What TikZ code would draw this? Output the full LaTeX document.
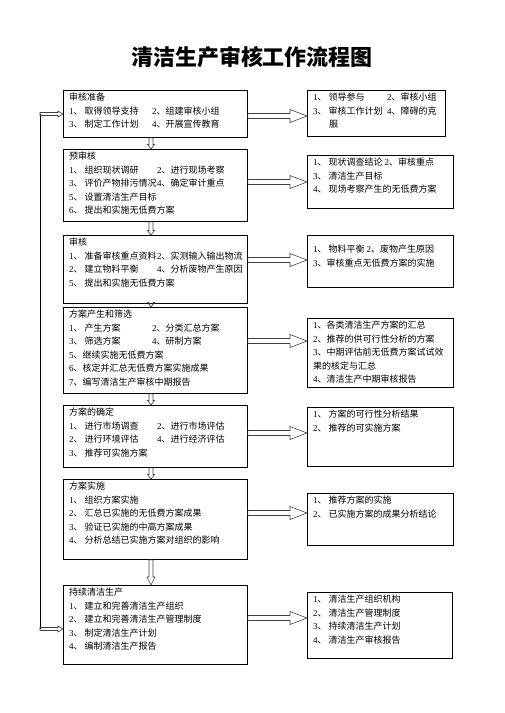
\documentclass[tikz,border=0pt]{standalone}
\usepackage{fontspec}
\setmainfont{Liberation Serif}
\newfontfamily\cjk{Noto Sans CJK SC}
\usetikzlibrary{calc}
\newcommand{\itm}[1]{{\rmfamily #1}、}
\tikzset{
  stage/.style={draw, line width=0.8pt, anchor=north west, inner sep=0pt},
  txt/.style={anchor=north west, inner sep=0pt, align=left, font=\cjk\fontsize{9}{13.5}\selectfont},
  fat/.style n args={3}{to path={let \p1=(\tikztostart), \p2=(\tikztotarget) in
    (\x1,\y1+#1) -- (\x2-#3,\y1+#1) -- (\x2-#3,\y1+#2) -- (\x2,\y1) -- (\x2-#3,\y1-#2) -- (\x2-#3,\y1-#1) -- (\x1,\y1-#1) -- cycle}},
  dfat/.style n args={3}{to path={let \p1=(\tikztostart), \p2=(\tikztotarget) in
    (\x1-#1,\y1) -- (\x1-#1,\y2+#3) -- (\x1-#2,\y2+#3) -- (\x1,\y2) -- (\x1+#2,\y2+#3) -- (\x1+#1,\y2+#3) -- (\x1+#1,\y1) -- cycle}},
  harrow/.style={fat={2.5pt}{6.5pt}{17pt}, draw=black!75, line width=0.6pt},
  larrow/.style={fat={1.5pt}{3pt}{5pt}, draw=black!75, line width=0.6pt},
  darrow/.style={dfat={2pt}{3.5pt}{4.5pt}, draw=black!75, line width=0.6pt},
}
\begin{document}
\begin{tikzpicture}[x=1pt, y=1pt]
\useasboundingbox (0,0) rectangle (504,-713);

% Title
\node[font=\cjk\bfseries\fontsize{22}{22}\selectfont] (title) at (252,-57) {清洁生产审核工作流程图};

% Stages on the left
\node[stage, minimum width=184pt, minimum height=47pt] (s1) at (63,-90) {};
\node[txt] (s1t) at ([shift={(6,-3)}]s1.north west) {审核准备\\
\makebox[83pt][l]{\itm{1} 取得领导支持}\itm{2}组建审核小组\\
\makebox[83pt][l]{\itm{3} 制定工作计划}\itm{4}开展宣传教育};

\node[stage, minimum width=184pt, minimum height=72pt] (s2) at (63,-149) {};
\node[txt] (s2t) at ([shift={(6,-3)}]s2.north west) {预审核\\
\makebox[88pt][l]{\itm{1} 组织现状调研}\itm{2}进行现场考察\\
\makebox[88pt][l]{\itm{3} 评价产物排污情况}\itm{4}确定审计重点\\
\itm{5} 设置清洁生产目标\\
\itm{6} 提出和实施无低费方案};

\node[stage, minimum width=184pt, minimum height=68pt] (s3) at (63,-235) {};
\node[txt] (s3t) at ([shift={(6,-3)}]s3.north west) {审核\\
\makebox[88pt][l]{\itm{1} 准备审核重点资料}\itm{2}实测输入输出物流\\
\makebox[88pt][l]{\itm{2} 建立物料平衡}\itm{4}分析废物产生原因\\
\itm{5} 提出和实施无低费方案};

\node[stage, minimum width=184pt, minimum height=86pt] (s4) at (63,-307) {};
\node[txt] (s4t) at ([shift={(6,-3)}]s4.north west) {方案产生和筛选\\
\makebox[83pt][l]{\itm{1} 产生方案}\itm{2}分类汇总方案\\
\makebox[83pt][l]{\itm{3} 筛选方案}\itm{4}研制方案\\
\itm{5}继续实施无低费方案\\
\itm{6}核定并汇总无低费方案实施成果\\
\itm{7}编写清洁生产审核中期报告};

\node[stage, minimum width=184pt, minimum height=62pt] (s5) at (63,-405) {};
\node[txt] (s5t) at ([shift={(6,-3)}]s5.north west) {方案的确定\\
\makebox[88pt][l]{\itm{1} 进行市场调查}\itm{2}进行市场评估\\
\makebox[88pt][l]{\itm{2} 进行环境评估}\itm{4}进行经济评估\\
\itm{3} 推荐可实施方案};

\node[stage, minimum width=184pt, minimum height=80pt] (s6) at (63,-479) {};
\node[txt] (s6t) at ([shift={(6,-3)}]s6.north west) {方案实施\\
\itm{1} 组织方案实施\\
\itm{2} 汇总已实施的无低费方案成果\\
\itm{3} 验证已实施的中高方案成果\\
\itm{4} 分析总结已实施方案对组织的影响};

\node[stage, minimum width=184pt, minimum height=79pt] (s7) at (63,-585) {};
\node[txt] (s7t) at ([shift={(6,-3)}]s7.north west) {持续清洁生产\\
\itm{1} 建立和完善清洁生产组织\\
\itm{2} 建立和完善清洁生产管理制度\\
\itm{3} 制定清洁生产计划\\
\itm{4} 编制清洁生产报告};

% Results on the right
\node[stage, minimum width=138pt, minimum height=46pt] (r1) at (307,-90) {};
\node[txt] (r1t) at ([shift={(6,-3)}]r1.north west) {\makebox[74pt][l]{\itm{1} 领导参与}\itm{2}审核小组\\
\makebox[74pt][l]{\itm{3} 审核工作计划}\itm{4}障碍的克\\
\hspace*{16pt}服};

\node[stage, minimum width=146pt, minimum height=53pt] (r2) at (307,-155) {};
\node[txt] (r2t) at ([shift={(6,-3)}]r2.north west) {\itm{1} 现状调查结论 \itm{2}审核重点\\
\itm{3} 清洁生产目标\\
\itm{4} 现场考察产生的无低费方案};

\node[stage, minimum width=146pt, minimum height=52pt] (r3) at (307,-235) {};
\node[txt] (r3t) at ([shift={(6,-10)}]r3.north west) {\itm{1} 物料平衡 \itm{2}废物产生原因\\
\itm{3}审核重点无低费方案的实施};

\node[stage, minimum width=146pt, minimum height=69pt] (r4) at (307,-318) {};
\node[txt] (r4t) at ([shift={(6,-3)}]r4.north west) {\itm{1}各类清洁生产方案的汇总\\
\itm{2}推荐的供可行性分析的方案\\
\itm{3}中期评估前无低费方案试试效\\
果的核定与汇总\\
\itm{4}清洁生产中期审核报告};

\node[stage, minimum width=146pt, minimum height=59pt] (r5) at (307,-407) {};
\node[txt] (r5t) at ([shift={(6,-3)}]r5.north west) {\itm{1} 方案的可行性分析结果\\
\itm{2} 推荐的可实施方案};

\node[stage, minimum width=146pt, minimum height=52pt] (r6) at (307,-493) {};
\node[txt] (r6t) at ([shift={(6,-3)}]r6.north west) {\itm{1} 推荐方案的实施\\
\itm{2} 已实施方案的成果分析结论};

\node[stage, minimum width=145pt, minimum height=66pt] (r7) at (307,-592) {};
\node[txt] (r7t) at ([shift={(6,-3)}]r7.north west) {\itm{1} 清洁生产组织机构\\
\itm{2} 清洁生产管理制度\\
\itm{3} 持续清洁生产计划\\
\itm{4} 清洁生产审核报告};

% Levels of the arrows
\coordinate (axis) at (151,0);
\coordinate (a1) at (0,-116);
\coordinate (a2) at (0,-182);
\coordinate (a3) at (0,-260);
\coordinate (a4) at (0,-341);
\coordinate (a5) at (0,-433);
\coordinate (a6) at (0,-513);
\coordinate (a7) at (0,-618);

% Arrows to the right
\draw[harrow] (s1.east |- a1) to (r1.west |- a1);
\draw[harrow] (s2.east |- a2) to (r2.west |- a2);
\draw[harrow] (s3.east |- a3) to (r3.west |- a3);
\draw[harrow] (s4.east |- a4) to (r4.west |- a4);
\draw[harrow] (s5.east |- a5) to (r5.west |- a5);
\draw[harrow] (s6.east |- a6) to (r6.west |- a6);
\draw[harrow] (s7.east |- a7) to (r7.west |- a7);

% Arrows down
\draw[darrow] (s1.south -| axis) to (s2.north -| axis);
\draw[darrow] (s2.south -| axis) to (s3.north -| axis);
\draw[darrow] (s3.south -| axis) to (s4.north -| axis);
\draw[darrow] (s4.south -| axis) to (s5.north -| axis);
\draw[darrow] (s5.south -| axis) to (s6.north -| axis);
\draw[dfat={2pt}{4pt}{8pt}, draw=black!75, line width=0.6pt] (s6.south -| axis) to (s7.north -| axis);

% Loop back on the left
\coordinate (lt) at (40,-114);
\coordinate (lb) at (40,-629);
\draw[line width=0.8pt] (lb) -- (lt);
\draw[larrow] (lt) to (s1.west |- lt);
\draw[larrow] (lb) to (s7.west |- lb);
\end{tikzpicture}
\end{document}
